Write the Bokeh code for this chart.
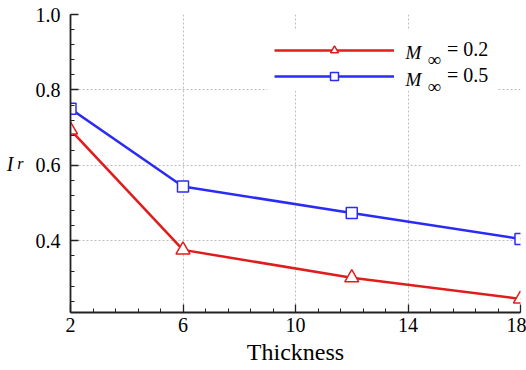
from bokeh.plotting import figure
from bokeh.models import (Range1d, FixedTicker, SingleIntervalTicker, Legend, LegendItem, Label,
                          PrintfTickFormatter, LinearAxis, BoxAnnotation)
from bokeh.embed import file_html
from bokeh.resources import INLINE
import numpy as np

# data
thickness = [2, 6, 12, 18]
ir_m02 = [0.694, 0.376, 0.302, 0.246]
ir_m05 = [0.750, 0.544, 0.474, 0.405]
x_ticks = [2, 6, 10, 14, 18]
series_names = ["= 0.2", "= 0.5"]

RED = "#e01c1c"
BLUE = "#2b2bf7"
FONT = "Liberation Serif"

p = figure(width=526, height=370, output_backend="svg", toolbar_location=None,
           x_range=Range1d(2, 18), y_range=Range1d(0.21, 1.0),
           min_border_left=70, min_border_right=6, min_border_top=14, min_border_bottom=58)
p.outline_line_color = None
p.background_fill_color = "white"

# axes
minor_x = [v for v in np.arange(2, 18.01, 0.8) if not any(abs(v - t) < 1e-6 for t in x_ticks)]
p.xaxis.ticker = FixedTicker(ticks=x_ticks, minor_ticks=minor_x)
p.yaxis.ticker = SingleIntervalTicker(interval=0.2, num_minor_ticks=5)
p.yaxis.formatter = PrintfTickFormatter(format="%.1f")
for ax in (p.xaxis, p.yaxis):
    ax.axis_line_color = "#222222"
    ax.axis_line_width = 1.8
    ax.major_tick_line_color = "#222222"
    ax.minor_tick_line_color = "#222222"
    ax.major_tick_line_width = 1.3
    ax.minor_tick_line_width = 1
    ax.major_tick_in = 8
    ax.major_tick_out = 0
    ax.minor_tick_in = 4
    ax.minor_tick_out = 0
    ax.major_label_text_font = FONT
    ax.major_label_text_font_size = "20px"
    ax.major_label_text_color = "black"
p.xaxis.major_label_standoff = 5
p.yaxis.major_label_standoff = 10
p.xaxis.axis_label = "Thickness"
p.xaxis.axis_label_text_font = FONT
p.xaxis.axis_label_text_font_style = "normal"
p.xaxis.axis_label_text_font_size = "24px"
p.xaxis.axis_label_text_color = "black"
p.xaxis.axis_label_standoff = 4


def title_axis(text, size, standoff, baseline):
    return LinearAxis(ticker=FixedTicker(ticks=[]), axis_label=text,
                      axis_label_orientation="horizontal", axis_label_standoff=standoff,
                      axis_line_color=None, major_tick_line_color=None,
                      minor_tick_line_color=None, major_label_standoff=0,
                      major_tick_in=0, major_tick_out=0, minor_tick_in=0, minor_tick_out=0,
                      axis_label_text_font=FONT, axis_label_text_font_style="italic",
                      axis_label_text_font_size=size, axis_label_text_color="black",
                      axis_label_text_baseline=baseline)


# y axis title I_r (I with subscript r)
p.add_layout(title_axis("r", "16px", 9, "middle"), "left")
p.add_layout(title_axis("I", "20px", 1, "alphabetic"), "left")

for g in (p.xgrid, p.ygrid):
    g.grid_line_color = "#bdbdbd"
    g.grid_line_dash = "2 2"
    g.grid_line_width = 1

# series
lr = p.line(thickness, ir_m02, line_color=RED, line_width=2.5)
sr = p.scatter(thickness, ir_m02, marker="triangle", size=14, fill_color="white",
               line_color=RED, line_width=1.5)
lb = p.line(thickness, ir_m05, line_color=BLUE, line_width=2.5)
sb = p.scatter(thickness, ir_m05, marker="square", size=11, fill_color="white",
               line_color=BLUE, line_width=1.5)

# white legend backdrop
p.add_layout(BoxAnnotation(left=9.0, right=17.18, top=0.958, bottom=0.7985,
                           fill_color="white", fill_alpha=1.0, line_color=None))

legend = Legend(items=[LegendItem(label=series_names[0], renderers=[lr, sr]),
                       LegendItem(label=series_names[1], renderers=[lb, sb])],
                location=(204, 225), glyph_width=120, glyph_height=20, spacing=3,
                padding=8, margin=0, label_standoff=53, label_width=40,
                label_text_font=FONT, label_text_font_size="20px", label_text_color="black",
                background_fill_alpha=0.0, border_line_color=None)
p.add_layout(legend)

# legend symbol text M_inf
for ym, yi in ((0.8993, 0.8807), (0.8277, 0.8091)):
    p.add_layout(Label(x=13.91, y=ym, text="M", text_color="black",
                       text_font=FONT, text_font_style="italic", text_font_size="19px",
                       text_baseline="alphabetic", level="overlay"))
    p.add_layout(Label(x=14.69, y=yi, text="∞", text_color="black",
                       text_font=FONT, text_font_size="19px", text_baseline="alphabetic",
                       level="overlay"))

open("out.html", "w").write(file_html(p, INLINE))
